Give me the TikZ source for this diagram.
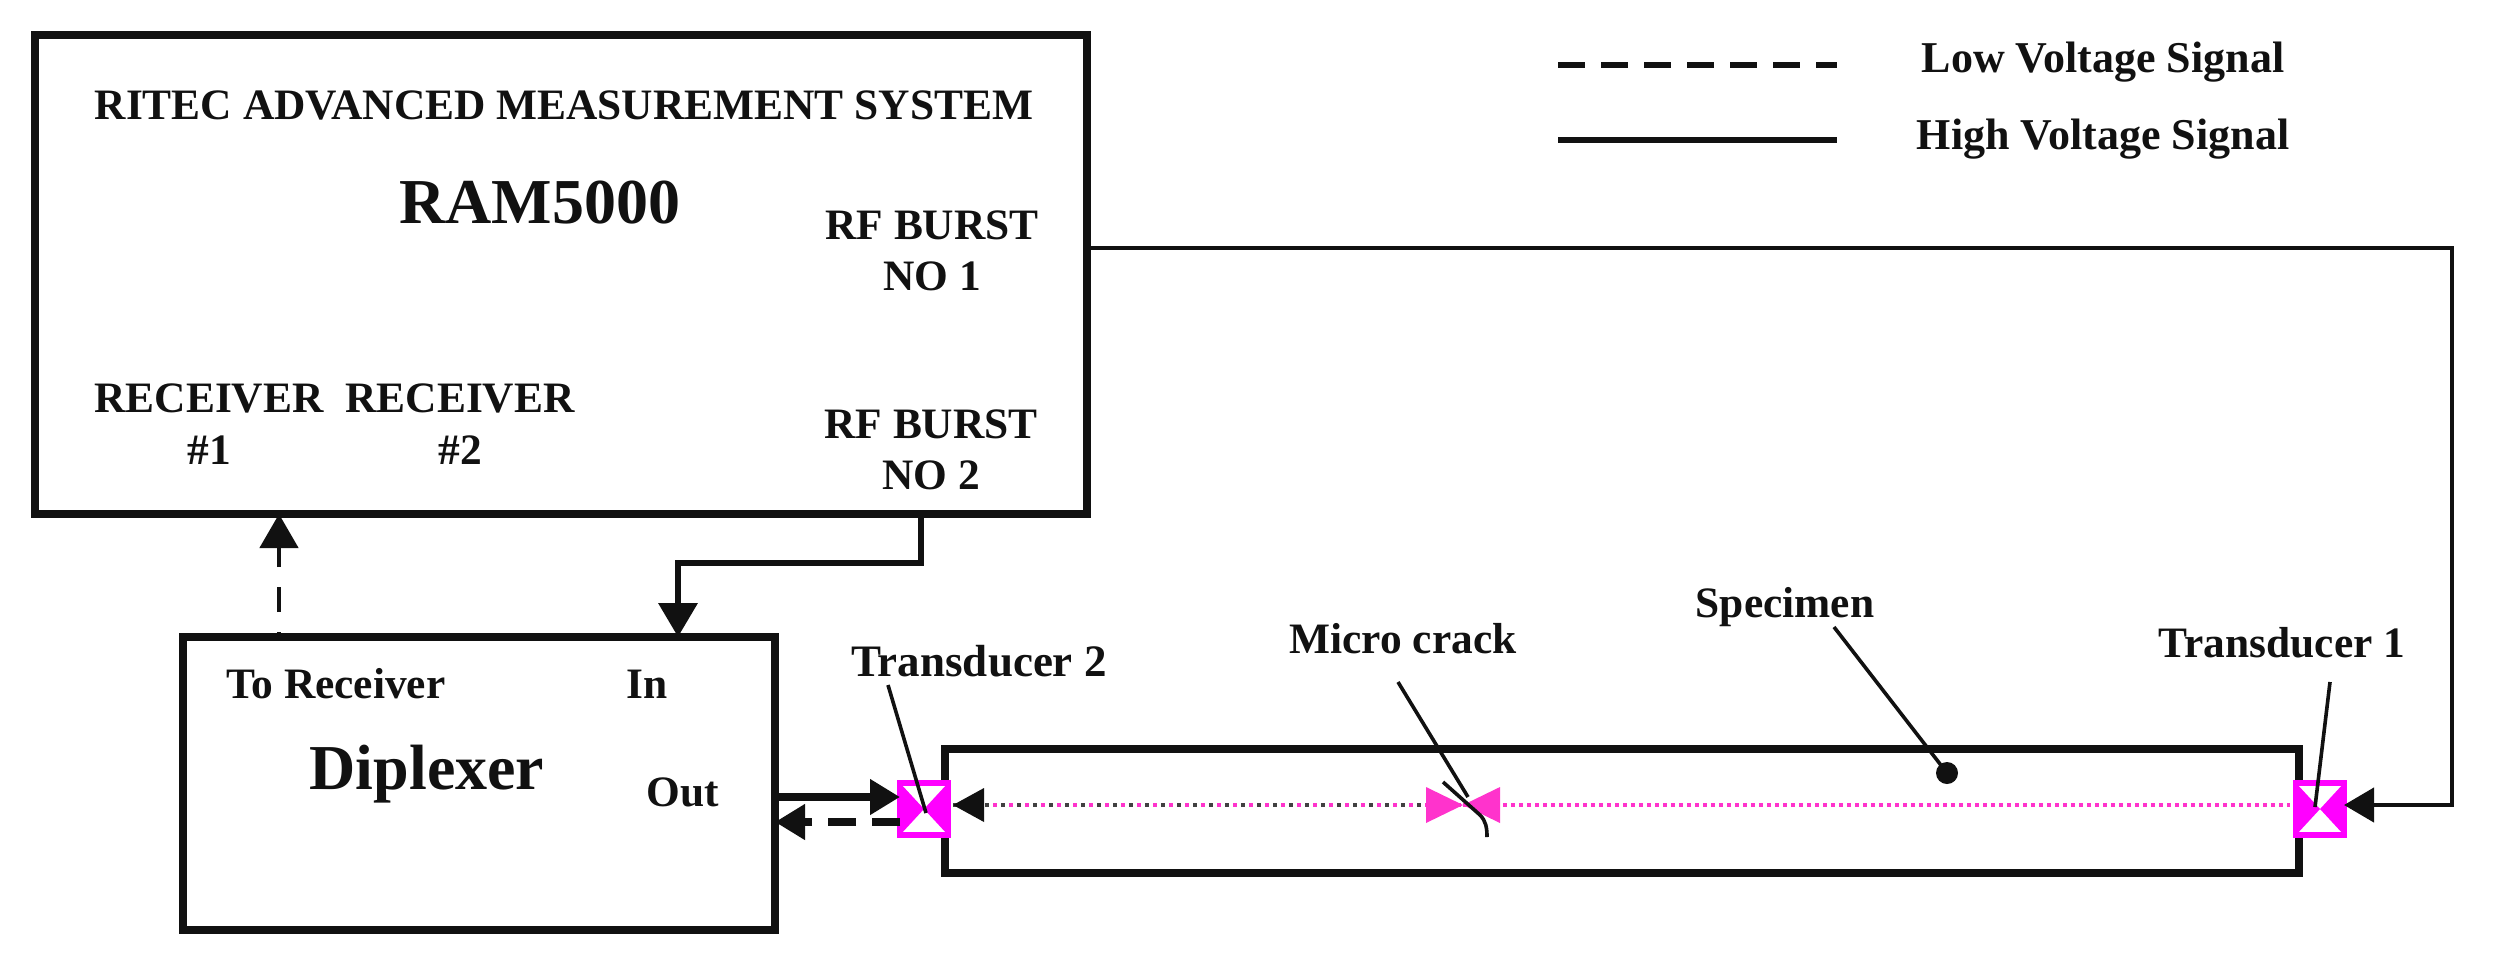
\documentclass[tikz,border=0pt]{standalone}
\usepackage{fontspec}
\setmainfont{Liberation Serif}
\usetikzlibrary{arrows.meta}
\definecolor{mag}{HTML}{FF00FF}
\definecolor{pinkm}{HTML}{FF33CC}
\definecolor{ink}{HTML}{111111}
\tikzset{
  x=0.5pt,y=-0.5pt,
  box/.style={draw=ink,line width=3.6pt,fill=white,rectangle,outer sep=0pt,inner sep=0pt},
  lab/.style={font=\bfseries\fontsize{#1}{#1}\selectfont,text=ink,inner sep=0pt,align=center},
  lab/.default={21.7},
  arrowt/.style={-{Triangle[length=15pt,width=17pt]}},
  arrowv/.style={-{Triangle[length=17pt,width=19pt]}},
  conn/.style={draw=ink,line width=3.4pt},
  thinl/.style={draw=ink,line width=2.2pt},
  leader/.style={draw=ink,line width=1.8pt},
  dashy/.style={dash pattern=on 13.5pt off 8pt},
  trans/.style={draw=mag,line width=3pt,fill=white,rectangle,outer sep=0pt,inner sep=0pt,minimum width=24pt,minimum height=26pt},
  dots/.style={draw=pinkm,line width=1.8pt,dash pattern=on 2pt off 2pt},
  pics/bowtie/.style args={#1/#2/#3}{code={
    \fill[#1] (-#2,-#3) -- (0,0) -- (-#2,#3) -- cycle;
    \fill[#1] (#2,-#3) -- (0,0) -- (#2,#3) -- cycle;}}
}
\begin{document}
\begin{tikzpicture}
\useasboundingbox (0,0) rectangle (2496,966);
% boxes
\node[box,minimum width=526pt,minimum height=239.5pt] (main) at (561,274.5) {};
\node[box,minimum width=296pt,minimum height=146.5pt] (dip) at (479,783.5) {};
\node[box,minimum width=677pt,minimum height=62pt] (spec) at (1622,811) {};
% main box texts
\node[lab] (title) at (564,105) {RITEC ADVANCED MEASUREMENT SYSTEM};
\node[lab=32] (ram) at (540,203) {RAM5000};
\node[lab] (rf1) at (932,251) {RF BURST\\[4pt]NO 1};
\node[lab] (rf2) at (931,450) {RF BURST\\[4pt]NO 2};
\node[lab] (r1) at (209,424) {RECEIVER\\[4pt]\#1};
\node[lab] (r2) at (460,424) {RECEIVER\\[4pt]\#2};
% diplexer texts
\node[lab] (tor) at (336,684) {To Receiver};
\node[lab] (in) at (647,684) {In};
\node[lab] (out) at (683,792) {Out};
\node[lab=32] (dipt) at (427,774) {Diplexer};
% other labels
\node[lab=22.5] (lt2) at (979,661) {Transducer 2};
\node[lab] (lcr) at (1403,639) {Micro crack};
\node[lab] (lsp) at (1785,607) {Specimen};
\node[lab] (lt1) at (2282,643) {Transducer 1};
\node[lab=22] (llow) at (2103,62) {Low Voltage Signal};
\node[lab=22] (lhigh) at (2103,139) {High Voltage Signal};
% legend
\coordinate (la) at (1558,65); \coordinate (lb) at (1837,65);
\coordinate (ha) at (1558,140); \coordinate (hb) at (1837,140);
\draw[conn,dashy,line width=2.8pt] (la) -- (lb);
\draw[thinl,line width=2.8pt] (ha) -- (hb);
% transducers
\node[trans] (t2) at (924,809) {};
\node[trans] (t1) at (2320,809) {};
\path (t2.center) pic {bowtie={mag/24/26}};
\path (t1.center) pic {bowtie={mag/24/26}};
% dotted wave path
\coordinate (cr) at (1463,805);
\coordinate (t2w) at (953,805);
\coordinate (t1w) at (2290,805);
\draw[dots] (t2w) -- (cr);
\draw[draw=ink!80,line width=1.8pt,dash pattern=on 2pt off 6pt] (t2w) -- (cr);
\draw[dots] (cr) -- (t1w);
\path (cr) pic {bowtie={pinkm/37/18}};
\fill[ink] (t2w) -- ++(31,-17) -- ++(0,34) -- cycle;
% crack
\draw[leader] (1443,782) -- (1480,815) .. controls (1486,821) and (1487,828) .. (1487,837);
% connectors
\coordinate (r0) at (main.east |- 0,248);
\coordinate (r1c) at (2452,248);
\coordinate (r2c) at (2452,805);
\draw[thinl,arrowt] (r0) -- (r1c) -- (r2c) -- (t1.east |- r2c);
\coordinate (b0) at (921,0);
\coordinate (b1) at (921,563);
\coordinate (b2) at (678,563);
\draw[conn,arrowv] (b0 |- main.south) -- (b1) -- (b2) -- (b2 |- dip.north);
\coordinate (d0) at (279,0);
\draw[conn,line width=2.4pt,arrowv,dash pattern=on 12.5pt off 10pt,dash phase=10pt] (d0 |- dip.north) -- (d0 |- main.south);
\coordinate (s0) at (0,797);
\draw[conn,line width=3.8pt,arrowt] (dip.east |- s0) -- (t2.west |- s0);
\coordinate (s1) at (0,822);
\draw[conn,line width=3.8pt,arrowt,dash pattern=on 14pt off 8pt] (t2.west |- s1) -- (dip.east |- s1);
% leaders
\coordinate (t2l) at (888,685); \coordinate (t2e) at (926,813);
\coordinate (t1l) at (2330,682); \coordinate (t1e) at (2315,807);
\coordinate (crl) at (1398,682); \coordinate (cre) at (1468,797);
\coordinate (spl) at (1834,627); \coordinate (spd) at (1947,773);
\draw[leader] (t2l) -- (t2e);
\draw[leader] (t1l) -- (t1e);
\draw[leader] (crl) -- (cre);
\draw[leader] (spl) -- (spd);
\node[circle,fill=ink,minimum size=11pt,inner sep=0pt] (dot) at (spd) {};
\end{tikzpicture}
\end{document}
